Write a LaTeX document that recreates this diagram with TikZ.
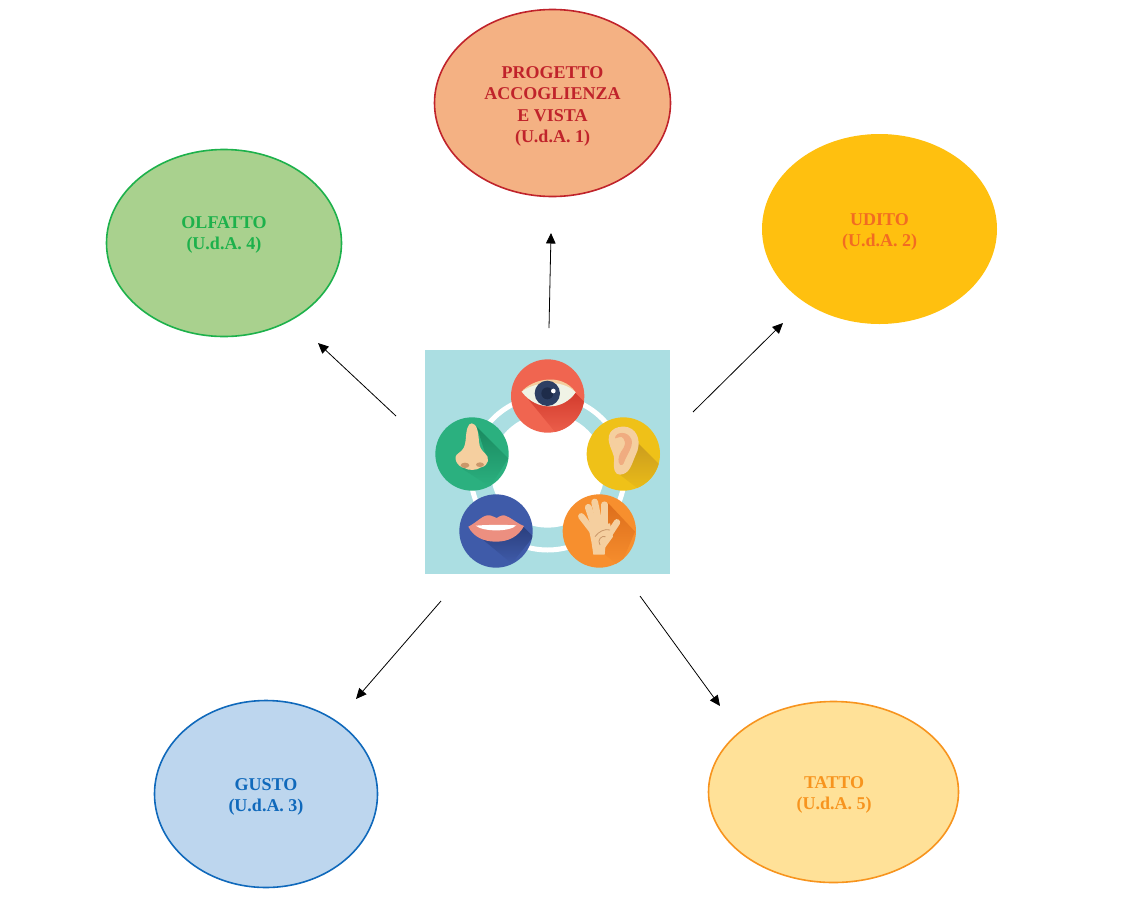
\documentclass[tikz,border=0pt]{standalone}
\usepackage{fontspec}
\setmainfont{Liberation Serif}
\usetikzlibrary{arrows.meta,shapes.geometric}
\definecolor{redfill}{HTML}{F4B183}\definecolor{redline}{HTML}{C0232B}
\definecolor{greenfill}{HTML}{A9D18E}\definecolor{greenline}{HTML}{1DB14B}
\definecolor{yelfill}{HTML}{FFC00F}\definecolor{yeltext}{HTML}{F26B22}
\definecolor{bluefill}{HTML}{BDD6EE}\definecolor{blueline}{HTML}{1069BB}
\definecolor{palefill}{HTML}{FFE198}\definecolor{paleline}{HTML}{F7941E}
\definecolor{skin}{HTML}{F5CF9F}\definecolor{skindark}{HTML}{C9976A}
\definecolor{panel}{HTML}{ABDEE2}
\definecolor{eyebg}{HTML}{F06550}\definecolor{eyesh}{HTML}{D33C2E}
\definecolor{earbg}{HTML}{EFC118}\definecolor{earsh}{HTML}{C99A1E}
\definecolor{nosebg}{HTML}{2BB07F}\definecolor{nosesh}{HTML}{1A8A60}
\definecolor{mouthbg}{HTML}{3F5BA9}\definecolor{mouthsh}{HTML}{2B3F7E}
\definecolor{handbg}{HTML}{F78F2E}\definecolor{handsh}{HTML}{DD6E1C}
\tikzset{
  blob/.style={ellipse,inner sep=0pt,outer sep=0pt,line width=1.6pt},
  lab/.style={align=center,font=\fontsize{18}{21.4}\selectfont\bfseries,inner sep=0pt},
  link/.style={line width=0.8pt,-{Triangle[length=10.5pt,width=9.5pt]}},
  longshadow/.style 2 args={shading=axis,shading angle=45,top color=#2,bottom color=#1}
}
\begin{document}
\begin{tikzpicture}[x=1pt,y=-1pt]
\useasboundingbox (0,0) rectangle (1145,900);
% ovals
\node[blob,draw=redline,fill=redfill,minimum width=236pt,minimum height=187pt] (vista) at (552.5,103) {};
\node[blob,draw=greenline,fill=greenfill,minimum width=235pt,minimum height=187pt] (olfatto) at (224,243) {};
\node[blob,fill=yelfill,minimum width=235pt,minimum height=190pt] (udito) at (879.5,229) {};
\node[blob,draw=blueline,fill=bluefill,minimum width=223pt,minimum height=187pt] (gusto) at (266,794) {};
\node[blob,draw=paleline,fill=palefill,minimum width=250pt,minimum height=181pt] (tatto) at (833.5,792) {};
% labels
\node[lab,text=redline] (tvista) at (552.5,106.5) {PROGETTO\\ACCOGLIENZA\\E VISTA\\(U.d.A. 1)};
\node[lab,text=greenline] (tolfatto) at (224,235) {OLFATTO\\(U.d.A. 4)};
\node[lab,text=yeltext] (tudito) at (879.5,232) {UDITO\\(U.d.A. 2)};
\node[lab,text=blueline] (tgusto) at (266,797) {GUSTO\\(U.d.A. 3)};
\node[lab,text=paleline] (ttatto) at (834,795) {TATTO\\(U.d.A. 5)};
% connectors
\coordinate (a1s) at (549,328); \coordinate (a1e) at (551,233);
\coordinate (a2s) at (693,412); \coordinate (a2e) at (783,323);
\coordinate (a3s) at (396,416); \coordinate (a3e) at (318,343);
\coordinate (a4s) at (441,601); \coordinate (a4e) at (356,699);
\coordinate (a5s) at (640,596); \coordinate (a5e) at (720,706);
\draw[link] (a1s) -- (a1e);
\draw[link] (a2s) -- (a2e);
\draw[link] (a3s) -- (a3e);
\draw[link] (a4s) -- (a4e);
\draw[link] (a5s) -- (a5e);
% central picture (drawn in 3x local coordinates)
\begin{scope}[shift={(415,340)},x=0.33333pt,y=-0.33333pt]
\fill[panel] (30,30) rectangle (765,703);
\draw[white,line width=5pt] (398,399) circle[radius=231];
\fill[white] (398,392) circle[radius=171];
% eye
\fill[eyebg] (398,168) circle[radius=110];
\begin{scope}
\clip (398,168) circle[radius=110];
\shade[longshadow={eyebg}{eyesh}] (340,178) -- (480,158) -- (545,222) -- (440,300) -- cycle;
\end{scope}
\fill[skin] (320,155) .. controls (350,118) and (440,95) .. (482,157) -- (400,170) -- cycle;
\fill[fill={rgb,255:red,240;green,243;blue,230}] (320,155) .. controls (360,125) and (440,115) .. (482,157) .. controls (445,212) and (365,215) .. (320,155) -- cycle;
\fill[fill={rgb,255:red,45;green,63;blue,99}] (397,160) circle[radius=38];
\fill[fill={rgb,255:red,30;green,44;blue,74}] (397,160) circle[radius=18];
\fill[white] (415,153) circle[radius=7];
% ear
\fill[earbg] (625,342) circle[radius=110];
\begin{scope}
\clip (625,342) circle[radius=110];
\shade[longshadow={earbg}{earsh}] (660,300) -- (750,390) -- (700,470) -- (612,402) -- cycle;
\end{scope}
\fill[skin] (581,300) .. controls (578,265) and (615,255) .. (640,262) .. controls (670,272) and (680,310) .. (662,345) .. controls (650,372) and (645,402) .. (615,404) .. controls (598,404) and (595,385) .. (597,365) .. controls (600,340) and (585,330) .. (581,300) -- cycle;
\fill[fill={rgb,255:red,240;green,172;blue,128}] (600,295) .. controls (600,275) and (640,270) .. (650,300) .. controls (655,320) and (635,345) .. (628,365) .. controls (622,385) and (605,375) .. (612,350) .. controls (618,325) and (640,320) .. (625,295) .. controls (618,285) and (608,295) .. (600,295) -- cycle;
% nose
\fill[nosebg] (171,342) circle[radius=110];
\begin{scope}
\clip (171,342) circle[radius=110];
\shade[longshadow={nosebg}{nosesh}] (185,260) -- (280,355) -- (225,440) -- (140,385) -- (220,370) -- cycle;
\end{scope}
\fill[skin] (170,250) .. controls (185,250) and (190,275) .. (192,305) .. controls (194,325) and (200,330) .. (210,340) .. controls (225,350) and (222,378) .. (198,382) .. controls (185,392) and (160,392) .. (148,384) .. controls (125,380) and (112,350) .. (130,340) .. controls (145,330) and (150,320) .. (152,300) .. controls (154,270) and (158,250) .. (170,250) -- cycle;
\fill[skindark] (150,376) ellipse[x radius=13,y radius=8];
\fill[skindark] (195,374) ellipse[x radius=12,y radius=7];
% mouth
\fill[mouthbg] (243,573) circle[radius=110];
\begin{scope}
\clip (243,573) circle[radius=110];
\shade[longshadow={mouthbg}{mouthsh}] (325,560) -- (355,590) -- (290,670) -- (205,600) -- cycle;
\end{scope}
\fill[fill={rgb,255:red,236;green,143;blue,128}] (160,560) .. controls (185,548) and (205,522) .. (225,526) .. controls (235,528) and (240,533) .. (245,534) .. controls (250,533) and (255,525) .. (268,526) .. controls (285,530) and (305,550) .. (327,558) .. controls (310,590) and (280,605) .. (243,605) .. controls (205,605) and (175,590) .. (160,560) -- cycle;
\fill[white] (182,557) .. controls (215,554) and (270,554) .. (304,556) .. controls (285,576) and (205,576) .. (182,557) -- cycle;
% hand
\fill[handbg] (553,573) circle[radius=110];
\begin{scope}
\clip (553,573) circle[radius=110];
\shade[longshadow={handbg}{handsh}] (580,490) -- (660,575) -- (615,680) -- (565,640) -- cycle;
\end{scope}
\begin{scope}[skin,line cap=round]
\draw[line width=6.5pt] (499,529) -- (532,572);
\draw[line width=6.8pt] (520,502) -- (539,560);
\draw[line width=6.8pt] (539,486) -- (553,555);
\draw[line width=6.5pt] (568,494) -- (568,555);
\draw[line width=6.5pt] (606,547) -- (578,590);
\fill (520,560) -- (585,550) -- (594,590) -- (571,622) -- (569,644) -- (535,644) -- (530,610) -- cycle;
\end{scope}
\draw[skindark,line width=0.8pt] (540,590) .. controls (550,575) and (570,565) .. (585,570);
\draw[skindark,line width=0.8pt] (555,615) .. controls (545,600) and (560,585) .. (572,590);
\end{scope}
\end{tikzpicture}
\end{document}
